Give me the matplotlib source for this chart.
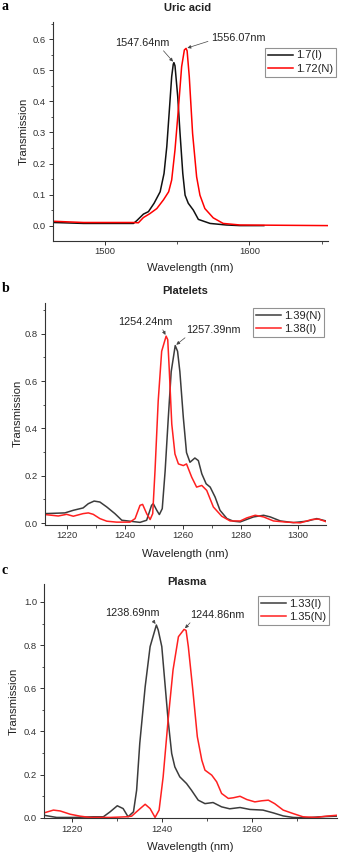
import matplotlib
matplotlib.use("Agg")
import matplotlib.pyplot as plt
from matplotlib.ticker import MultipleLocator

plt.rcParams['font.family'] = ['Liberation Sans', 'DejaVu Sans']

# ---------------- Data ----------------
# Panel a: Uric acid
a_black_x = [1464.2, 1485, 1519.6, 1521.9, 1526.5, 1530, 1533.9, 1538.1, 1540.8, 1542.7, 1544.5,
             1546.1, 1547.2, 1547.64, 1548.4, 1550.3, 1551.9, 1553.8, 1555.4, 1557.6, 1561.1,
             1564.6, 1572.7, 1583.9, 1593.4, 1610]
a_black_y = [0.010, 0.007, 0.007, 0.016, 0.037, 0.045, 0.072, 0.109, 0.168, 0.254, 0.373,
             0.480, 0.520, 0.525, 0.515, 0.415, 0.297, 0.168, 0.098, 0.072, 0.050,
             0.020, 0.007, 0.002, 0.0, 0.0]
a_red_x = [1463.8, 1485, 1519.6, 1523, 1526.5, 1531.1, 1535.8, 1540.4, 1544, 1546.1, 1548.4,
           1550.7, 1553, 1554.9, 1556.07, 1556.8, 1558.3, 1560.6, 1563.4, 1565.7, 1569.1,
           1574.9, 1581.8, 1593.4, 1654.5]
a_red_y = [0.014, 0.010, 0.010, 0.009, 0.026, 0.039, 0.055, 0.083, 0.109, 0.147, 0.244,
           0.373, 0.512, 0.566, 0.571, 0.563, 0.480, 0.297, 0.157, 0.098, 0.055,
           0.025, 0.007, 0.002, 0.0]

# Panel b: Platelets
b_black_x = [1212.3, 1219.2, 1222.1, 1225.5, 1227.3, 1229.3, 1231.3, 1233.7, 1236.5, 1238.9,
             1241.7, 1245.2, 1247.5, 1249.2, 1249.8, 1251, 1251.9, 1252.9, 1253.9, 1255,
             1256, 1257.39, 1258.2, 1259, 1260.2, 1261.3, 1262.5, 1264.2, 1265.4, 1266.6,
             1268.1, 1269.5, 1271.2, 1272.9, 1275.3, 1277.5, 1279.9, 1284.5, 1288, 1290.3,
             1293.8, 1298.3, 1303, 1306.4, 1309.6]
b_black_y = [0.040, 0.043, 0.054, 0.064, 0.082, 0.093, 0.089, 0.068, 0.040, 0.012,
             0.008, 0.003, 0.012, 0.075, 0.082, 0.054, 0.036, 0.061, 0.220, 0.446,
             0.640, 0.750, 0.726, 0.640, 0.446, 0.298, 0.257, 0.275, 0.264, 0.208,
             0.166, 0.152, 0.110, 0.054, 0.019, 0.008, 0.005, 0.026, 0.033, 0.026,
             0.009, 0.002, 0.008, 0.019, 0.009]
b_red_x = [1212.3, 1216.9, 1219.8, 1222.1, 1225.5, 1227.3, 1229, 1231.3, 1233.7, 1237.1,
           1241.7, 1243.5, 1245.2, 1246.1, 1247.5, 1248.7, 1249.6, 1250.4, 1251.5, 1252.7,
           1254.24, 1254.8, 1255.3, 1256.2, 1257.3, 1258.5, 1260.2, 1261.3, 1263.1, 1264.8,
           1266.6, 1268.3, 1270.6, 1273.5, 1276.4, 1279.9, 1282.2, 1285.1, 1288, 1291.4,
           1296, 1300.7, 1304.7, 1307, 1309.6]
b_red_y = [0.036, 0.030, 0.037, 0.029, 0.040, 0.043, 0.037, 0.019, 0.008, 0.004,
           0.004, 0.019, 0.075, 0.079, 0.040, 0.015, 0.040, 0.222, 0.516, 0.726,
           0.790, 0.775, 0.656, 0.418, 0.292, 0.250, 0.243, 0.250, 0.194, 0.152,
           0.159, 0.138, 0.068, 0.029, 0.009, 0.009, 0.022, 0.033, 0.026, 0.009,
           0.004, 0.001, 0.015, 0.017, 0.006]

# Panel c: Plasma
c_black_x = [1213.7, 1216.5, 1220.2, 1224.7, 1226.9, 1228.4, 1230, 1231.3, 1232.4, 1233.6,
             1234.3, 1235, 1236.2, 1237.3, 1238.69, 1239.1, 1239.9, 1240.6, 1241.3, 1242.1,
             1242.8, 1243.9, 1245.4, 1246.5, 1248, 1249.5, 1251.3, 1253.2, 1255, 1257.3,
             1259.5, 1262.4, 1264.7, 1266.9, 1269.1, 1272.1, 1275, 1278.8]
c_black_y = [0.012, 0.002, 0.002, 0.005, 0.005, 0.028, 0.056, 0.043, 0.005, 0.028,
             0.128, 0.345, 0.607, 0.793, 0.893, 0.870, 0.793, 0.623, 0.453, 0.298,
             0.236, 0.190, 0.159, 0.128, 0.082, 0.066, 0.071, 0.051, 0.042, 0.048,
             0.039, 0.036, 0.023, 0.009, 0.002, 0.0, 0.005, 0.008]
c_red_x = [1213.7, 1215.8, 1217.3, 1219.5, 1221.7, 1223.9, 1228.4, 1232.1, 1233.2, 1234.7,
           1236.2, 1237.3, 1238.4, 1239.3, 1240.2, 1241.3, 1242.4, 1243.6, 1244.86, 1245.3,
           1245.8, 1246.8, 1247.8, 1248.8, 1249.5, 1251, 1252.1, 1253.2, 1254.7, 1255.8,
           1257.3, 1258.8, 1260.6, 1262.1, 1263.6, 1265, 1266.9, 1269.1, 1271.3, 1274.3,
           1276.5, 1278.8]
c_red_y = [0.023, 0.036, 0.032, 0.017, 0.008, 0.002, 0.002, 0.005, 0.008, 0.036,
           0.063, 0.043, 0.002, 0.036, 0.190, 0.453, 0.685, 0.839, 0.873, 0.868,
           0.793, 0.592, 0.376, 0.267, 0.221, 0.198, 0.167, 0.113, 0.090, 0.093,
           0.100, 0.085, 0.074, 0.079, 0.082, 0.066, 0.036, 0.020, 0.005, 0.002,
           0.008, 0.012]

panel_titles = ["Uric acid", "Platelets", "Plasma"]
panel_letters = ["a", "b", "c"]
a_labels = ["1.7(I)", "1.72(N)"]
b_labels = ["1.39(N)", "1.38(I)"]
c_labels = ["1.33(I)", "1.35(N)"]
a_peaks = [(1547.64, 0.525), (1556.07, 0.571)]
b_peaks = [(1254.24, 0.790), (1257.39, 0.750)]
c_peaks = [(1238.69, 0.893), (1244.86, 0.873)]

# ---------------- Figure ----------------
W, H = 342, 857
fig = plt.figure(figsize=(W / 100, H / 100), dpi=100)


def px_axes(l, t, r, b):
    return fig.add_axes([l / W, 1 - b / H, (r - l) / W, (b - t) / H])


TXT = '#333333'
SP = '#333333'


def style(ax, xlim, ylim, xmaj, xmin, ymaj, ymin, fmt):
    ax.set_xlim(*xlim)
    ax.set_ylim(*ylim)
    for s in ['top', 'right']:
        ax.spines[s].set_visible(False)
    for s in ['left', 'bottom']:
        ax.spines[s].set_color(SP)
        ax.spines[s].set_linewidth(0.8)
    ax.xaxis.set_major_locator(MultipleLocator(xmaj))
    ax.xaxis.set_minor_locator(MultipleLocator(xmin))
    ax.yaxis.set_major_locator(MultipleLocator(ymaj))
    ax.yaxis.set_minor_locator(MultipleLocator(ymin))
    ax.yaxis.set_major_formatter(plt.FuncFormatter(lambda v, p: fmt.format(v)))
    ax.tick_params(which='major', direction='out', length=3, width=0.7, color=SP,
                   labelsize=6.8, labelcolor=TXT, pad=2)
    ax.tick_params(which='minor', direction='out', length=1.8, width=0.6, color=SP)
    ax.set_facecolor('none')


def legend(ax, lines, labels, x, y):
    lg = ax.legend(lines, labels, loc='upper left', bbox_to_anchor=(x / W, 1 - y / H),
                   bbox_transform=fig.transFigure, fontsize=8, frameon=True, fancybox=False,
                   borderpad=0.25, borderaxespad=0, handlelength=2.3, handletextpad=0.25,
                   labelspacing=0.3)
    lg.get_frame().set_edgecolor('#777777')
    lg.get_frame().set_linewidth(0.8)
    for t in lg.get_texts():
        t.set_color('#222222')


def annot(ax, text, xy, txy, relpos):
    ax.annotate(text, xy=xy, xytext=(txy[0], H - txy[1]), textcoords='figure pixels',
                ha='center', va='center', fontsize=7.8, color='#222222',
                arrowprops=dict(arrowstyle='-|>', color='#444444', lw=0.5,
                                mutation_scale=5, relpos=relpos, shrinkA=0, shrinkB=1))


def labels(ax, title, tx, ty, ylx, xly):
    t = ax.set_title(title, fontsize=8, fontweight='bold', color='#222222', y=ty,
                     va='center', pad=0)
    t.set_x(tx)
    ax.set_xlabel('Wavelength (nm)', fontsize=8.2, color='#222222')
    ax.xaxis.label.set_va('center')
    ax.xaxis.set_label_coords(0.5, xly)
    ax.set_ylabel('Transmission', fontsize=8.2, color='#222222')
    ax.yaxis.label.set_va('center')
    ax.yaxis.set_label_coords(ylx, 0.5)


# Panel a
axa = px_axes(53, 22, 328, 240.5)
la1, = axa.plot(a_black_x, a_black_y, color='#111111', lw=1.1)
la2, = axa.plot(a_red_x, a_red_y, color='#ff0000', lw=1.1)
style(axa, (1463.8, 1654.5), (-0.048, 0.656), 100, 50, 0.1, 0.05, '{:.1f}')
labels(axa, panel_titles[0], 0.491, 1.064, -0.105, -0.126)
legend(axa, [la1, la2], a_labels, 265, 47.7)
annot(axa, f"{a_peaks[0][0]:.2f}nm", a_peaks[0], (142, 43), (0.85, 0.0))
annot(axa, f"{a_peaks[1][0]:.2f}nm", a_peaks[1], (238, 38), (0.0, 0.25))

# Panel b
axb = px_axes(44.7, 303, 326, 524.5)
lb1, = axb.plot(b_black_x, b_black_y, color='#3c3c3c', lw=1.1)
lb2, = axb.plot(b_red_x, b_red_y, color='#ff2020', lw=1.1)
style(axb, (1212.2, 1309.6), (-0.006, 0.93), 20, 10, 0.2, 0.1, '{:.1f}')
labels(axb, panel_titles[1], 0.499, 1.054, -0.097, -0.135)
legend(axb, [lb1, lb2], b_labels, 253, 308)
annot(axb, f"{b_peaks[0][0]:.2f}nm", b_peaks[0], (145, 322), (0.8, 0.0))
annot(axb, f"{b_peaks[1][0]:.2f}nm", b_peaks[1], (213, 330), (0.05, 0.0))

# Panel c
axc = px_axes(44, 584, 336.7, 818.3)
lc1, = axc.plot(c_black_x, c_black_y, color='#3c3c3c', lw=1.1)
lc2, = axc.plot(c_red_x, c_red_y, color='#ff2020', lw=1.1)
style(axc, (1213.7, 1278.8), (-0.002, 1.083), 20, 10, 0.2, 0.1, '{:.1f}')
labels(axc, panel_titles[2], 0.489, 1.01, -0.102, -0.121)
legend(axc, [lc1, lc2], c_labels, 258, 596)
annot(axc, f"{c_peaks[0][0]:.2f}nm", c_peaks[0], (132, 613), (0.85, 0.0))
annot(axc, f"{c_peaks[1][0]:.2f}nm", c_peaks[1], (217, 615), (0.05, 0.0))

# Panel letters
for letter, yy in zip(panel_letters, [6, 289, 571]):
    fig.text(2 / W, 1 - yy / H, letter, fontsize=10, fontweight='bold',
             family=['Liberation Serif', 'DejaVu Serif'], va='center', ha='left', color='black')

fig.savefig('out.png', dpi=100)
